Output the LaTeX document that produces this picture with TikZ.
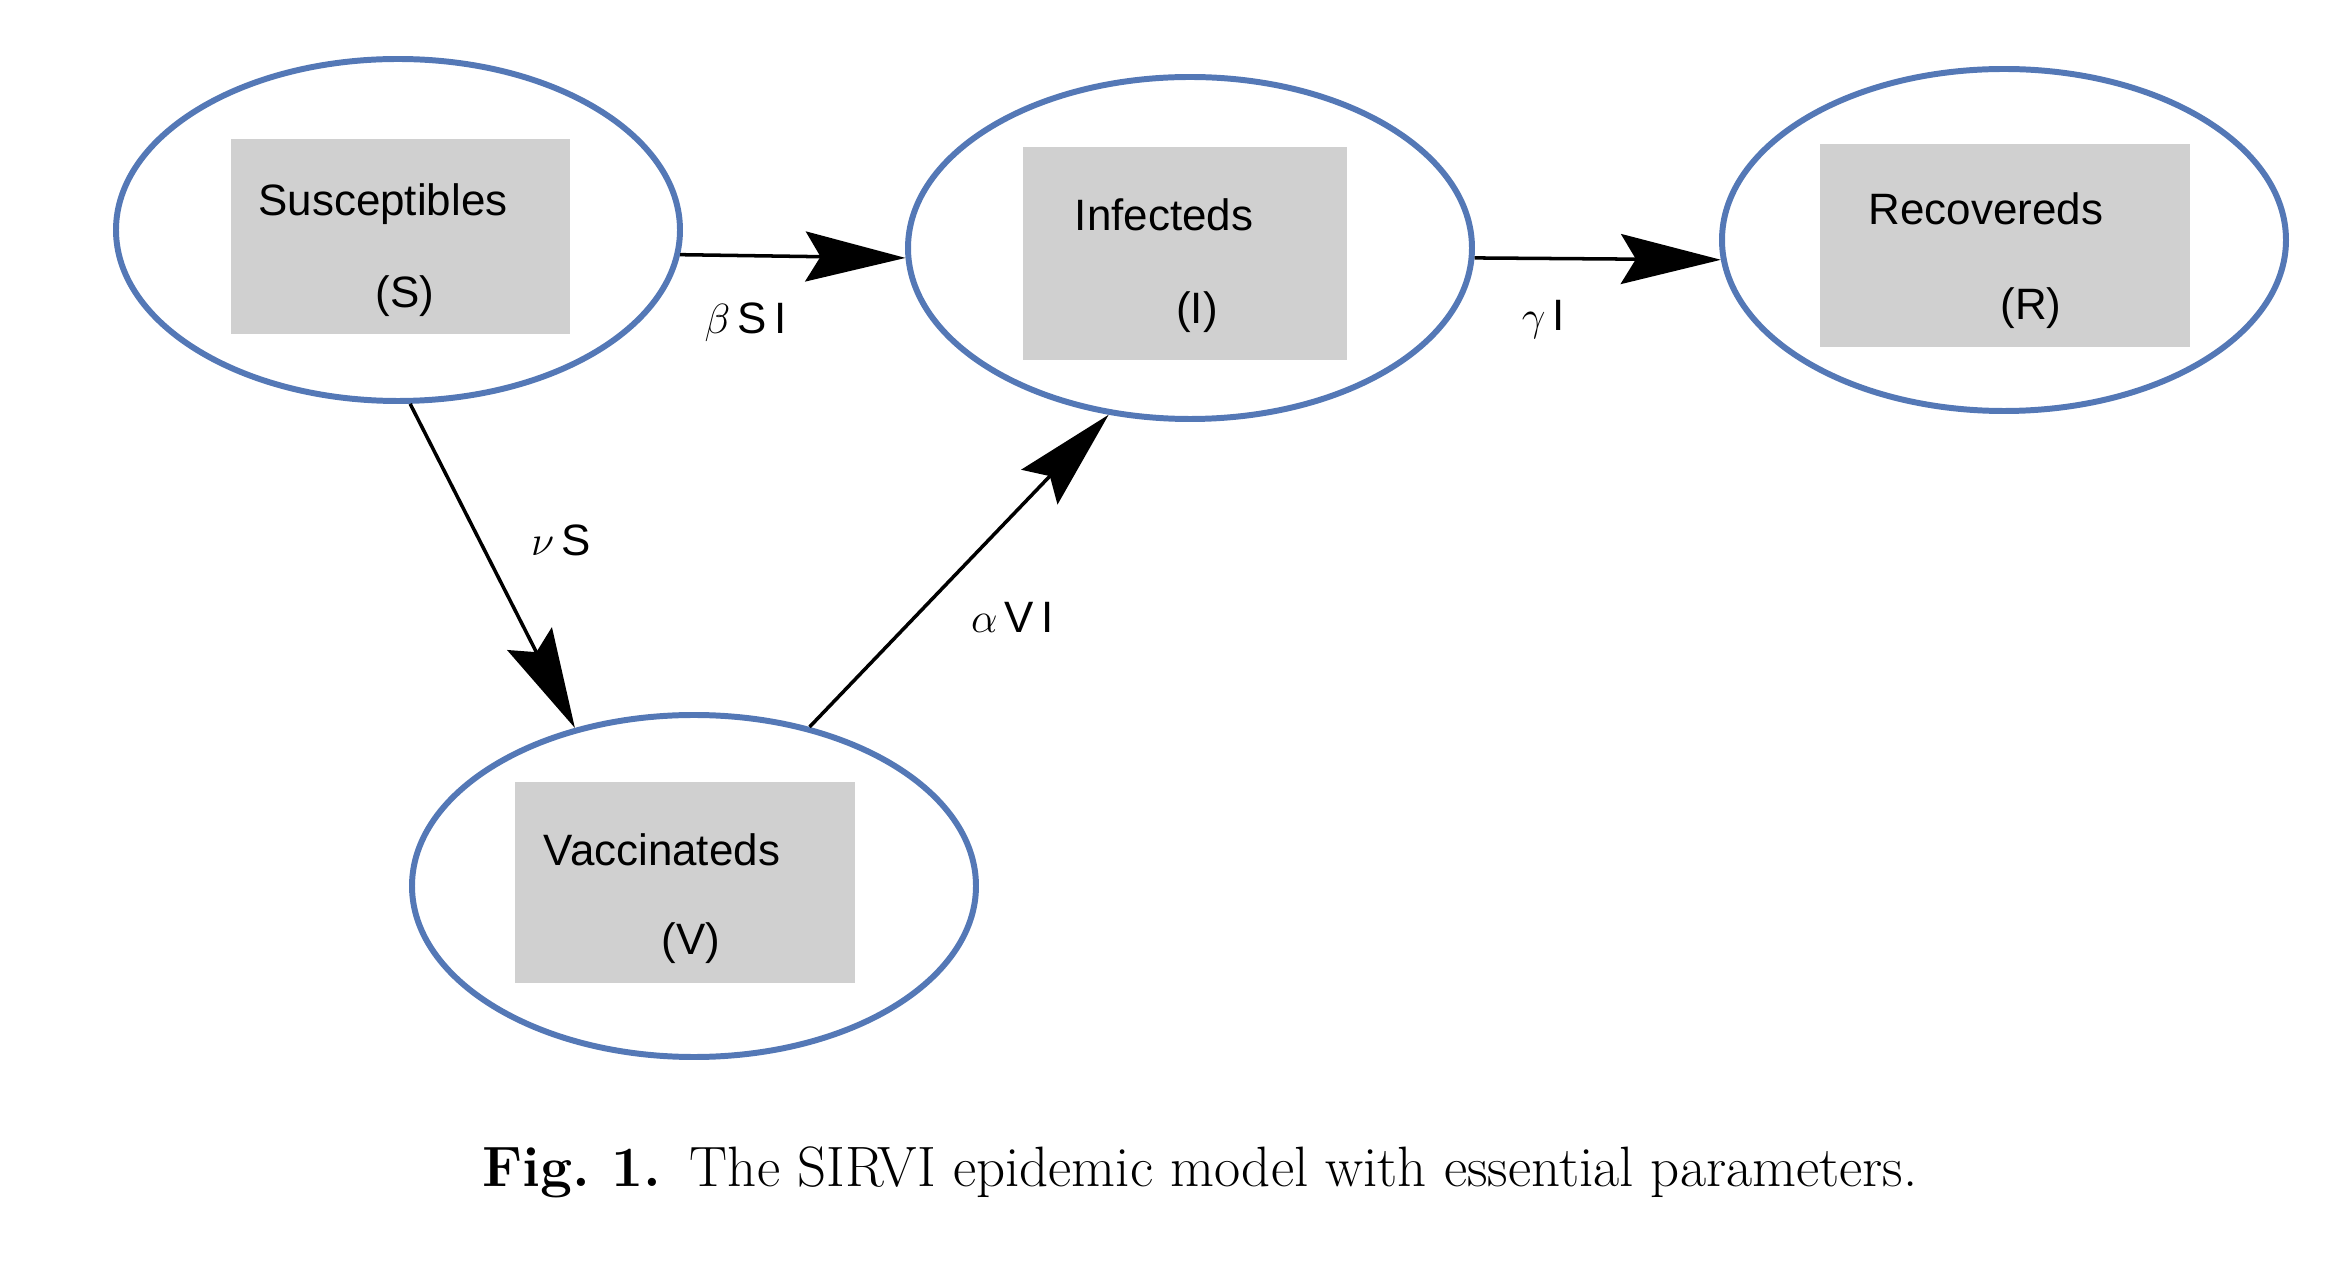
\documentclass[tikz,border=0pt]{standalone}
\usepackage{amsmath}
\usepackage{amssymb}
\usepackage{fontspec}
\usepackage{tikz}
\usetikzlibrary{arrows.meta, shapes.geometric, positioning}
\newfontfamily\arialfont{Liberation Sans}
\definecolor{ellblue}{RGB}{84,120,182}
\definecolor{boxgray}{RGB}{208,208,208}
\tikzstyle{compartment}=[ellipse, draw=ellblue, line width=1.7pt, minimum width=5.64cm, minimum height=3.42cm, inner sep=0pt]
\tikzstyle{grbox}=[fill=boxgray, inner sep=0pt]
\tikzstyle{boxtext}=[font=\arialfont\fontsize{12.5}{14}\selectfont, inner sep=0pt]
\tikzstyle{rate}=[font=\arialfont\fontsize{12.5}{14}\selectfont, inner sep=0pt]
\tikzstyle{flow}=[line width=1pt, -{Stealth[length=10mm, width=5mm, inset=1.5mm]}]
\newcommand{\compartment}{\node[compartment]}
\newcommand{\grbox}{\node[grbox]}

\begin{document}
\begin{tikzpicture}
            \useasboundingbox (0,0) rectangle (23.43,12.81);
            \compartment (S) at (3.98,10.51) {};
            \compartment (I) at (11.90,10.33) {};
            \compartment (R) at (20.04,10.41) {};
            \compartment (V) at (6.94,3.95) {};
            \grbox (Sbox) at (4.00,10.44) [minimum width=3.39cm, minimum height=1.95cm]{};
            \grbox (Ibox) at (11.85,10.27) [minimum width=3.24cm, minimum height=2.13cm]{};
            \grbox (Rbox) at (20.05,10.35) [minimum width=3.70cm, minimum height=2.03cm]{};
            \grbox (Vbox) at (6.85,3.98) [minimum width=3.40cm, minimum height=2.01cm]{};
            \node[boxtext] (Sname) at (3.83,10.77) {Susceptibles};
            \node[boxtext] (Slab) at (4.05,9.85) {(S)};
            \node[boxtext] (Iname) at (11.64,10.66) {Infecteds};
            \node[boxtext] (Ilab) at (11.97,9.69) {(I)};
            \node[boxtext] (Rname) at (19.86,10.72) {Recovereds};
            \node[boxtext] (Rlab) at (20.31,9.73) {(R)};
            \node[boxtext] (Vname) at (6.62,4.31) {Vaccinateds};
            \node[boxtext] (Vlab) at (6.91,3.38) {(V)};
            \draw[flow] (S.-5) -- (I.182) node[rate, pos=.29, below=4.5mm] (bSI) {$\beta$\,S\,I};
            \draw[flow] (I.-2) -- (R.184) node[rate, pos=.28, below=4mm] (gI) {$\gamma$\,I};
            \draw[flow] (S.-86) -- (V.127) node[rate, pos=.42, right=5mm] (nS) {$\nu$\,S};
            \draw[flow] (V.54) -- (I.244) node[rate, pos=.35, right=5.5mm] (aVI) {$\alpha$\,V\,I};
            \node (caption) at (12.0,1.09) {\fontsize{16.2}{18}\selectfont\textbf{Fig.~1.}\enspace The SIRVI epidemic model with essential parameters.};
\end{tikzpicture}
\end{document}
